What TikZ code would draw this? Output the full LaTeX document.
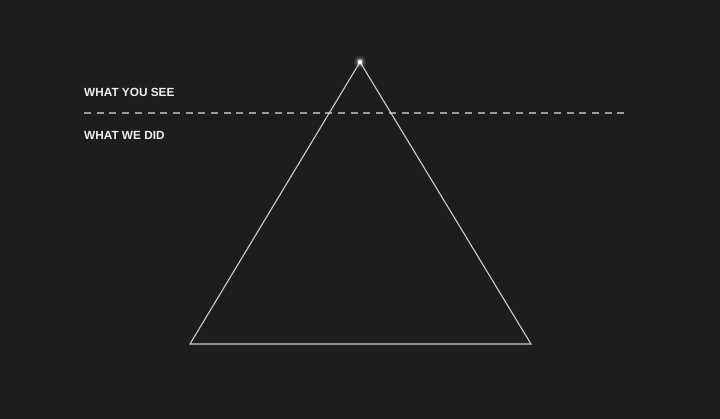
\documentclass[tikz,border=0pt]{standalone}
\usepackage{fontspec}
\setmainfont{Liberation Sans}
\definecolor{bgc}{RGB}{29,29,29}
\definecolor{linec}{RGB}{205,205,205}
\definecolor{dashc}{RGB}{155,155,155}
\definecolor{txtc}{RGB}{238,238,238}
\begin{document}
\begin{tikzpicture}[x=1pt,y=-1pt,
  lbl/.style={anchor=base west,inner sep=0pt,text=txtc,font=\fontsize{11.8}{14}\selectfont\bfseries},
  tri/.style={draw=linec,line width=1.1pt,line join=miter}]
\fill[bgc] (0,0) rectangle (720,419);
\useasboundingbox (0,0) rectangle (720,419);
\coordinate (apex) at (360,62);
\coordinate (bl) at (190,344);
\coordinate (br) at (531,344);
\coordinate (dl) at (84,113);
\coordinate (dr) at (630,113);
\draw[dashc,line width=1.1pt,dash pattern=on 7pt off 5.7pt] (dl) -- (dr);
\draw[tri] (apex) -- (br) -- (bl) -- cycle;
\fill[white,opacity=0.12] (apex) circle (6);
\fill[white,opacity=0.3] (apex) circle (3.8);
\fill[white] (apex) circle (2.2);
\node[lbl] (see) at (84,96.5) {WHAT YOU SEE};
\node[lbl] (did) at (84,140) {WHAT WE DID};
\end{tikzpicture}
\end{document}
